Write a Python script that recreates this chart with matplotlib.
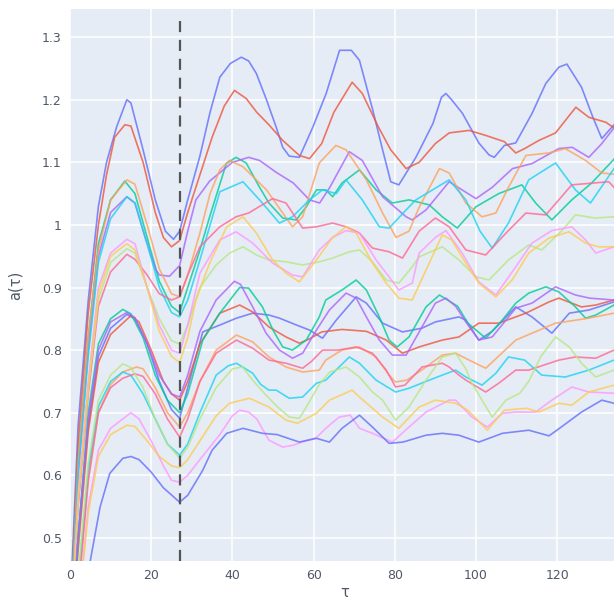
import matplotlib
matplotlib.use("Agg")
import matplotlib.pyplot as plt

# (tau, a) samples, upper family of curves
top_blue = [(0, 0.38), (2, 0.68), (4.5, 0.88), (7, 1.03), (9, 1.1), (11.5, 1.157), (14, 1.2), (15, 1.195),
            (18, 1.12), (21, 1.04), (23.5, 0.99), (25.5, 0.977), (27, 0.99), (29, 1.04), (32, 1.11),
            (34.5, 1.18), (36.9, 1.236), (39.5, 1.258), (42.2, 1.268), (44, 1.262), (45.9, 1.242),
            (48.4, 1.2), (50.8, 1.156), (52.4, 1.124), (54, 1.11), (56.5, 1.108), (59.8, 1.156),
            (63.1, 1.21), (66.4, 1.279), (69.3, 1.279), (71.3, 1.263), (74.6, 1.183), (77, 1.12),
            (79, 1.069), (81, 1.064), (85.2, 1.108), (89.4, 1.162), (91.5, 1.204), (92.6, 1.21),
            (94, 1.2), (96.7, 1.178), (100.7, 1.131), (103.2, 1.112), (104.5, 1.108), (107, 1.127),
            (109.8, 1.131), (113.8, 1.178), (117.2, 1.226), (120.4, 1.252), (122.4, 1.257),
            (126, 1.22), (128.8, 1.172), (131, 1.138), (134, 1.16)]
top_red = [(0, 0.37), (2, 0.65), (4.5, 0.86), (7, 1.0), (9, 1.08), (11, 1.14), (13.5, 1.16), (15, 1.158),
           (18, 1.1), (21, 1.02), (23, 0.98), (25, 0.965), (27, 0.975), (29, 1.02), (32, 1.08),
           (35, 1.14), (38, 1.19), (40.5, 1.215), (43.4, 1.202), (46, 1.18), (49, 1.16), (52.4, 1.135),
           (56.5, 1.111), (59, 1.106), (62, 1.13), (65, 1.18), (69.5, 1.228), (72, 1.21), (76, 1.156),
           (79, 1.12), (82.8, 1.09), (86, 1.1), (90, 1.13), (93.4, 1.147), (98.3, 1.151),
           (102.4, 1.143), (107, 1.133), (109.8, 1.115), (112, 1.122), (115.5, 1.135),
           (119.6, 1.147), (124.6, 1.188), (127.8, 1.172), (132, 1.164), (134, 1.155)]
top_orange = [(0, 0.36), (2, 0.62), (4.5, 0.82), (7, 0.96), (10, 1.04), (14, 1.072), (16, 1.065),
              (19, 1.0), (22, 0.93), (25, 0.89), (27, 0.885), (29, 0.92), (32, 0.987), (34.5, 1.05),
              (36.9, 1.088), (39.3, 1.103), (42.6, 1.093), (48.4, 1.056), (52.4, 1.019), (54.8, 0.997),
              (57.3, 1.013), (61.4, 1.099), (65.5, 1.127), (68, 1.12), (73, 1.072), (77, 1.019),
              (80.3, 0.98), (83.5, 0.99), (86, 1.028), (91, 1.09), (93.4, 1.083), (97.5, 1.035),
              (101.5, 1.013), (104.9, 1.019), (108, 1.06), (112.3, 1.111), (118, 1.115), (122, 1.122),
              (127, 1.103), (131, 1.083), (134, 1.081)]
top_green = [(0, 0.36), (2, 0.62), (4.5, 0.82), (7, 0.97), (10, 1.04), (13.5, 1.07), (16, 1.05),
             (19, 0.98), (22, 0.91), (25, 0.87), (27, 0.86), (29, 0.9), (32, 0.96), (34.4, 1.013),
             (38.5, 1.098), (40.9, 1.108), (43.4, 1.099), (46.7, 1.06), (49, 1.035), (52.4, 1.011),
             (55.7, 1.008), (58.2, 1.029), (60.7, 1.056), (63, 1.056), (64.7, 1.045), (67, 1.067),
             (71.3, 1.088), (75.4, 1.056), (79.4, 1.035), (83.5, 1.04), (88.5, 1.032), (91.7, 1.013),
             (95.4, 0.995), (100, 1.029), (105.6, 1.05), (111.3, 1.064), (114.7, 1.035),
             (118.7, 1.008), (123.6, 1.04), (128.5, 1.067), (134, 1.105)]
top_purple = [(0, 0.36), (2, 0.6), (4.5, 0.8), (7, 0.95), (10, 1.02), (14, 1.045), (16, 1.035),
              (18.5, 0.98), (21, 0.93), (22, 0.92), (24.5, 0.918), (27, 0.935), (29, 0.99), (31, 1.04),
              (34.4, 1.07), (40, 1.1), (44, 1.108), (46.7, 1.103), (50.8, 1.084), (55, 1.067),
              (59, 1.04), (61.5, 1.035), (64, 1.06), (68.8, 1.117), (72, 1.103), (77, 1.045),
              (82.8, 1.013), (84.3, 1.008), (87.7, 1.024), (93.4, 1.069), (100, 1.042), (104, 1.06),
              (109, 1.09), (113.8, 1.098), (120.4, 1.122), (123.7, 1.124), (127.8, 1.108),
              (131, 1.13), (134, 1.155)]
top_cyan = [(0, 0.35), (2, 0.6), (4.5, 0.79), (7, 0.94), (10, 1.01), (14, 1.045), (16, 1.035),
            (19, 0.97), (22, 0.9), (25, 0.86), (27, 0.853), (29, 0.88), (32, 0.944), (36.9, 1.053),
            (42.6, 1.069), (46.7, 1.04), (51.6, 1.003), (54.8, 1.013), (59, 1.04), (62.2, 1.056),
            (65.6, 1.05), (68, 1.072), (72, 1.04), (76.2, 0.997), (78.6, 0.995), (82.8, 1.024),
            (85.2, 1.04), (93.4, 1.072), (97.5, 1.04), (101, 0.99), (104, 0.963), (108, 1.003),
            (113, 1.072), (119.6, 1.099), (124.5, 1.056), (128.2, 1.035), (134, 1.09)]
top_pinkred = [(0, 0.33), (2, 0.55), (4.5, 0.73), (7, 0.87), (10, 0.925), (14, 0.953), (16, 0.945),
               (19, 0.92), (22, 0.89), (25, 0.88), (27, 0.885), (29, 0.92), (32, 0.965), (36.9, 0.997),
               (40.9, 1.013), (44, 1.019), (49.9, 1.042), (53.2, 1.035), (57.3, 0.995), (60.7, 0.997),
               (64.7, 1.003), (68, 0.997), (71.3, 0.987), (74.5, 0.963), (78.6, 0.957), (81.9, 0.947),
               (86, 0.99), (90, 1.011), (93.4, 0.997), (97.5, 0.96), (102.4, 0.952), (107.4, 0.987),
               (112.3, 1.019), (117.2, 1.016), (123.6, 1.064), (132.7, 1.069), (134, 1.06)]
top_pink = [(0, 0.34), (2, 0.57), (4.5, 0.75), (7, 0.9), (10, 0.955), (14, 0.977), (16, 0.97),
            (19, 0.9), (22, 0.84), (25, 0.8), (27, 0.795), (29, 0.84), (32, 0.923), (36.9, 0.976),
            (40.9, 0.989), (45, 0.971), (49.9, 0.939), (54.8, 0.92), (57.3, 0.917), (61.4, 0.96),
            (64.7, 0.98), (68, 0.991), (71.3, 0.987), (75.4, 0.944), (78.6, 0.917), (81, 0.896),
            (84.3, 0.907), (86, 0.955), (90, 0.98), (92.6, 0.991), (96.6, 0.955), (100.7, 0.909),
            (104.9, 0.888), (109.8, 0.933), (113.8, 0.971), (118.7, 0.991), (123.6, 0.997),
            (127, 0.976), (129.5, 0.955), (134, 0.965)]
top_yellow = [(0, 0.33), (2, 0.56), (4.5, 0.74), (7, 0.89), (10, 0.95), (14, 0.97), (16, 0.96),
              (19, 0.9), (22, 0.83), (25, 0.79), (27, 0.78), (29, 0.82), (31, 0.88), (34.4, 0.939),
              (38.6, 0.997), (42.6, 1.013), (45.9, 0.987), (49.9, 0.944), (53.2, 0.923), (56.5, 0.909),
              (60.7, 0.944), (64.7, 0.98), (68, 0.997), (70.5, 0.987), (74.5, 0.939), (77.9, 0.907),
              (81, 0.883), (84.3, 0.88), (87.7, 0.928), (91.7, 0.984), (94, 0.976), (97.5, 0.939),
              (100.7, 0.907), (104.9, 0.885), (108.9, 0.912), (113, 0.955), (118, 0.979),
              (122.9, 0.989), (127, 0.971), (130.2, 0.965), (134, 0.965)]
top_lightgreen = [(0, 0.33), (2, 0.56), (4.5, 0.74), (7, 0.88), (10, 0.94), (14, 0.962), (16, 0.955),
                  (19, 0.9), (22, 0.85), (25, 0.815), (27, 0.81), (29, 0.84), (32, 0.9), (36, 0.936),
                  (39.3, 0.955), (42.6, 0.965), (45.9, 0.952), (49, 0.944), (53.2, 0.941), (57.3, 0.936),
                  (61.4, 0.941), (64.7, 0.947), (68.8, 0.957), (71.3, 0.96), (74.5, 0.941),
                  (77.9, 0.912), (81, 0.907), (84.3, 0.933), (86, 0.949), (91.7, 0.965), (95.8, 0.944),
                  (100, 0.917), (103.2, 0.912), (108, 0.944), (113, 0.968), (116.2, 0.96),
                  (121.2, 0.991), (124.5, 1.016), (129.4, 1.011), (134, 1.013)]

# lower family of curves
low_green = [(0, 0.3), (2, 0.5), (4.5, 0.7), (7, 0.81), (10, 0.85), (13, 0.865), (15, 0.858), (18, 0.82),
             (21, 0.76), (24, 0.72), (27, 0.7), (29, 0.73), (32.7, 0.816), (36.9, 0.859), (41.8, 0.9),
             (44, 0.899), (47.4, 0.869), (50, 0.832), (52.4, 0.805), (54.8, 0.8), (58.2, 0.816),
             (61.4, 0.853), (63, 0.88), (67, 0.896), (70.5, 0.912), (73, 0.896), (76.2, 0.853),
             (78.6, 0.816), (80.6, 0.805), (83.5, 0.821), (87.7, 0.869), (91, 0.888), (95.5, 0.87),
             (98, 0.843), (102.4, 0.819), (106.5, 0.848), (109.8, 0.875), (113, 0.891),
             (117.2, 0.901), (120.4, 0.893), (124.5, 0.869), (127, 0.851), (129.5, 0.856), (134, 0.872)]
low_purple = [(0, 0.3), (2, 0.5), (4.5, 0.69), (7, 0.8), (10, 0.845), (14, 0.86), (16, 0.852), (19, 0.81),
              (22, 0.76), (25, 0.73), (27, 0.725), (29, 0.76), (32, 0.83), (36, 0.88), (40.5, 0.91),
              (42, 0.905), (45, 0.869), (48.3, 0.827), (51.6, 0.8), (54.8, 0.787), (57.3, 0.795),
              (60.7, 0.832), (63.9, 0.864), (68, 0.891), (70.5, 0.883), (73, 0.853), (76.2, 0.816),
              (79.4, 0.792), (82.8, 0.792), (86.7, 0.837), (90, 0.875), (92.6, 0.883), (95, 0.87),
              (97.5, 0.845), (100.7, 0.816), (104, 0.821), (109.8, 0.867), (113.8, 0.875),
              (119.6, 0.901), (124.5, 0.888), (128, 0.883), (134, 0.88)]
low_blue2 = [(0, 0.3), (2, 0.5), (4.5, 0.68), (7, 0.79), (10, 0.835), (14, 0.857), (16, 0.85), (19, 0.81),
             (22, 0.75), (25, 0.705), (27, 0.691), (29, 0.74), (32.7, 0.829), (36.9, 0.84), (41, 0.851),
             (45, 0.859), (49, 0.856), (51.6, 0.851), (55.8, 0.84), (59, 0.832), (62.2, 0.819),
             (65.6, 0.848), (70.5, 0.885), (73, 0.875), (77, 0.843), (81.9, 0.829), (86.7, 0.835),
             (90, 0.845), (95.8, 0.853), (97.5, 0.848), (100.7, 0.816), (104, 0.83), (109.8, 0.869),
             (113.8, 0.853), (118.7, 0.827), (123, 0.859), (127.8, 0.864), (134, 0.877)]
low_red = [(0, 0.29), (2, 0.48), (4.5, 0.67), (7, 0.78), (10, 0.825), (15, 0.855), (17, 0.845), (20, 0.8),
           (23, 0.75), (25, 0.73), (27, 0.72), (29, 0.75), (32, 0.81), (36.9, 0.859), (41.8, 0.872),
           (45, 0.861), (49, 0.837), (53.2, 0.821), (56.5, 0.811), (59, 0.818), (62, 0.829),
           (67, 0.833), (73, 0.83), (77.9, 0.816), (81.9, 0.795), (86, 0.805), (91.7, 0.816),
           (95.8, 0.821), (100.7, 0.843), (105.6, 0.843), (112.3, 0.859), (118, 0.877),
           (120.4, 0.883), (126, 0.869), (129.5, 0.872), (134, 0.88)]
low_orange = [(0, 0.26), (2, 0.42), (4.5, 0.6), (7, 0.7), (10, 0.745), (13, 0.765), (16.4, 0.773),
              (18, 0.77), (21, 0.74), (24, 0.7), (27, 0.677), (29, 0.7), (32, 0.75), (36, 0.8),
              (41, 0.824), (45, 0.813), (49, 0.789), (53.2, 0.773), (57.3, 0.765), (61.4, 0.768),
              (63, 0.784), (67, 0.8), (71.3, 0.805), (75.4, 0.789), (78.6, 0.76), (80.2, 0.749),
              (83, 0.752), (87.7, 0.773), (91.7, 0.792), (95, 0.795), (98, 0.785), (102.4, 0.771),
              (109.8, 0.816), (119.6, 0.843), (127.8, 0.851), (134, 0.859)]
low_pinkred = [(0, 0.25), (2, 0.41), (4.5, 0.59), (7, 0.7), (10, 0.74), (13, 0.755), (16, 0.762),
               (18, 0.758), (21, 0.73), (24, 0.69), (27, 0.661), (29, 0.69), (32, 0.75), (36, 0.795),
               (41, 0.816), (45, 0.803), (49, 0.784), (53.2, 0.779), (57.3, 0.771), (59.5, 0.782),
               (62.2, 0.8), (66, 0.8), (70.5, 0.805), (74.5, 0.795), (77.9, 0.768), (80.2, 0.741),
               (82.5, 0.744), (86.7, 0.773), (91.7, 0.779), (93.4, 0.773), (95.8, 0.76), (97.5, 0.752),
               (102.4, 0.733), (105.6, 0.747), (109.8, 0.768), (113, 0.768), (120.4, 0.784),
               (124.5, 0.789), (129.5, 0.787), (134, 0.8)]
low_cyan = [(0, 0.26), (2, 0.43), (4.5, 0.61), (7, 0.71), (10, 0.75), (13, 0.765), (15, 0.76), (18, 0.73),
            (21, 0.69), (24, 0.65), (27, 0.632), (29, 0.65), (32, 0.7), (36, 0.76), (39, 0.775),
            (41, 0.779), (45, 0.763), (47, 0.745), (49, 0.736), (50.8, 0.736), (54, 0.723),
            (57.3, 0.725), (60.7, 0.747), (63, 0.752), (68.8, 0.789), (71.3, 0.779), (75.4, 0.752),
            (80.2, 0.733), (83.5, 0.739), (88.5, 0.752), (91.7, 0.76), (95, 0.768), (97.5, 0.757),
            (101.5, 0.744), (104.9, 0.763), (108, 0.789), (112, 0.784), (116.2, 0.76), (122, 0.757),
            (127.8, 0.768), (134, 0.784)]
low_lightgreen = [(0, 0.27), (2, 0.44), (4.5, 0.62), (7, 0.72), (10, 0.76), (13, 0.778), (15, 0.772),
                  (18, 0.74), (21, 0.69), (24, 0.65), (27, 0.627), (29, 0.645), (32, 0.69), (36, 0.74),
                  (40, 0.77), (42.5, 0.773), (45, 0.752), (48, 0.73), (51, 0.71), (54, 0.693),
                  (56.5, 0.691), (58.2, 0.709), (61.4, 0.745), (64, 0.765), (68, 0.773), (71.3, 0.757),
                  (74.5, 0.733), (77, 0.72), (80.2, 0.688), (83.5, 0.709), (87.7, 0.752), (91.7, 0.789),
                  (95, 0.795), (97.5, 0.77), (99, 0.747), (101.5, 0.72), (104, 0.693), (107.4, 0.72),
                  (110.8, 0.731), (113, 0.75), (116, 0.79), (119.6, 0.821), (123, 0.805), (126, 0.779),
                  (129.5, 0.757), (134, 0.768)]
low_pink = [(0, 0.22), (2, 0.38), (4.5, 0.55), (7, 0.64), (10, 0.675), (13, 0.69), (15, 0.7), (17, 0.69),
            (20, 0.655), (23, 0.615), (25, 0.592), (27, 0.589), (29, 0.6), (32, 0.625), (36.9, 0.665),
            (40, 0.695), (41.8, 0.704), (44, 0.701), (46, 0.69), (49, 0.656), (52.4, 0.645), (55, 0.648),
            (58, 0.655), (60.7, 0.66), (63, 0.675), (66.3, 0.693), (69, 0.696), (71.3, 0.675),
            (74.5, 0.667), (79.4, 0.653), (83.5, 0.677), (87.7, 0.701), (93.4, 0.72), (95, 0.72),
            (99, 0.693), (102.8, 0.677), (106.5, 0.699), (110, 0.701), (114.7, 0.701), (118.7, 0.72),
            (123.6, 0.741), (127.8, 0.733), (134, 0.731)]
low_yellow = [(0, 0.22), (2, 0.38), (4.5, 0.54), (7, 0.63), (10, 0.665), (14, 0.68), (16, 0.678),
              (19, 0.655), (22, 0.63), (25, 0.615), (27, 0.612), (29, 0.625), (32, 0.655), (36, 0.695),
              (39.3, 0.715), (44.2, 0.723), (49, 0.709), (53.2, 0.688), (56, 0.683), (60.7, 0.699),
              (63.9, 0.72), (69.5, 0.736), (71.3, 0.725), (77, 0.693), (81, 0.675), (86, 0.709),
              (90, 0.72), (95, 0.715), (98, 0.704), (102.8, 0.672), (107, 0.704), (112.5, 0.707),
              (115.5, 0.701), (120.4, 0.715), (123.6, 0.712), (127.8, 0.733), (134, 0.744)]
low_blue = [(0, 0.15), (3, 0.36), (4.9, 0.46), (7.4, 0.549), (9.8, 0.603), (11, 0.612), (13, 0.627),
            (15, 0.63), (17, 0.625), (20, 0.605), (23, 0.58), (27, 0.557), (29, 0.568), (32.7, 0.608),
            (35, 0.64), (38.6, 0.667), (42.6, 0.675), (47.4, 0.667), (51, 0.665), (56.5, 0.653),
            (60.7, 0.659), (63.9, 0.653), (67, 0.675), (71.3, 0.696), (74.5, 0.677), (78.6, 0.651),
            (82, 0.653), (87.7, 0.664), (91.7, 0.667), (95.8, 0.664), (100.7, 0.653), (106.5, 0.667),
            (113, 0.672), (118, 0.663), (121, 0.677), (126, 0.701), (131, 0.72), (134, 0.715)]

tau_marker = 27

curves = [
    (top_blue, '#636EFA'), (top_red, '#EF553B'), (top_green, '#00CC96'), (top_purple, '#AB63FA'),
    (top_orange, '#FFA15A'), (top_cyan, '#19D3F3'), (top_pinkred, '#FF6692'),
    (top_lightgreen, '#B6E880'), (top_pink, '#FF97FF'), (top_yellow, '#FECB52'),
    (low_blue2, '#636EFA'), (low_red, '#EF553B'), (low_green, '#00CC96'), (low_purple, '#AB63FA'),
    (low_orange, '#FFA15A'), (low_cyan, '#19D3F3'), (low_pinkred, '#FF6692'),
    (low_lightgreen, '#B6E880'), (low_pink, '#FF97FF'), (low_yellow, '#FECB52'),
    (low_blue, '#636EFA'),
]

fig = plt.figure(figsize=(6.14, 6.01), dpi=100)
ax = fig.add_axes([70 / 614, 1 - 561 / 601, 1 - 70 / 614, 552 / 601])
ax.set_facecolor('#E5ECF6')

for pts, col in curves:
    t = [p[0] for p in pts]
    a = [p[1] for p in pts]
    ax.plot(t, a, color=col, lw=1.2, alpha=0.8, solid_joinstyle='round')

ax.axvline(tau_marker, ymax=0.985, color='#555555', lw=1.6, ls=(0, (5, 3.5)))

ax.set_xlim(0, 134)
ax.set_ylim(0.463, 1.345)
ax.set_xticks([0, 20, 40, 60, 80, 100, 120])
ax.set_yticks([0.5, 0.6, 0.7, 0.8, 0.9, 1.0, 1.1, 1.2, 1.3])
ax.set_yticklabels(['0.5', '0.6', '0.7', '0.8', '0.9', '1', '1.1', '1.2', '1.3'])
ax.grid(True, color='white', lw=1.1)
ax.set_axisbelow(True)
for s in ax.spines.values():
    s.set_visible(False)
ax.tick_params(length=0, labelsize=9, colors='#505868', pad=6)
ax.set_ylabel('a(τ)', fontsize=10.5, color='#505868', labelpad=14)
fig.text(345 / 614, 1 / 601, 'τ', fontsize=10.5, color='#505868', ha='center', va='bottom')

fig.savefig('out.png', dpi=100)
